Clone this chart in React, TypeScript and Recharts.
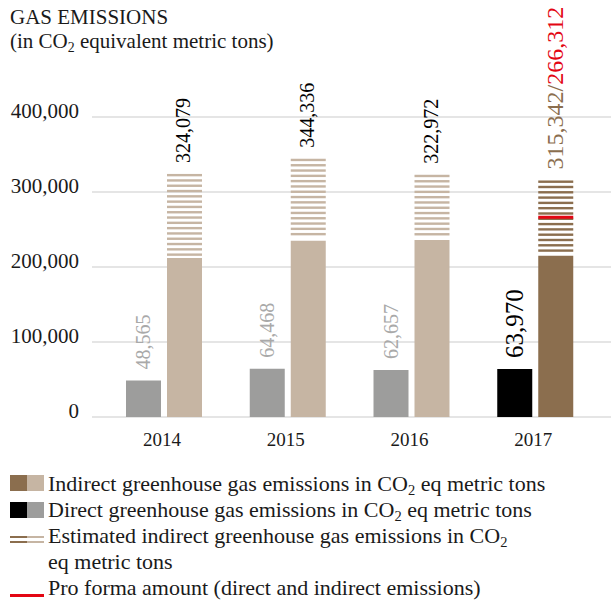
import React from 'react';
import { BarChart, Bar, XAxis, YAxis, CartesianGrid, Cell, LabelList } from 'recharts';

const years = ['2014', '2015', '2016', '2017'];
const directValues = [48565, 64468, 62657, 63970];
const indirectMeasured = [212000, 235000, 236000, 215000];
const indirectTotal = [324079, 344336, 322972, 315342];
const proFormaTotal: (number | null)[] = [null, null, null, 266312];
const yTicks = [0, 100000, 200000, 300000, 400000];
const directColors = ['#9d9d9c', '#9d9d9c', '#9d9d9c', '#000000'];
const indirectColors = ['#c6b5a3', '#c6b5a3', '#c6b5a3', '#8b6e4e'];

const data = years.map((year, i) => ({
  year,
  direct: directValues[i],
  measured: indirectMeasured[i],
  estimated: indirectTotal[i] - indirectMeasured[i],
}));

const FONT = '"Liberation Serif", "Times New Roman", serif';
const RED = '#e30613';
const BROWN = '#8b6e4e';

const fmt = (v: number) => v.toLocaleString('en-US');

const YTick = (props: any) => {
  const { x, y, payload } = props;
  return (
    <text x={x} y={y + 1} textAnchor="end" fontFamily={FONT} fontSize={21} fill="#1a1a1a">
      {fmt(payload.value)}
    </text>
  );
};

const XTick = (props: any) => {
  const { x, y, payload } = props;
  return (
    <text x={x - 2} y={y + 21} textAnchor="middle" fontFamily={FONT} fontSize={19} fill="#1a1a1a">
      {payload.value}
    </text>
  );
};

const StripedShape = (props: any) => {
  const { x, y, width, height, index } = props;
  const color = indirectColors[index];
  const stripes: React.ReactNode[] = [];
  const step = 5.3;
  let k = 0;
  for (let yy = y; yy < y + height - 3; yy += step) {
    stripes.push(<rect key={k++} x={x} y={yy} width={width} height={2.4} fill={color} />);
  }
  const pf = proFormaTotal[index];
  let redLine = null;
  if (pf != null) {
    const total = indirectTotal[index];
    const measured = indirectMeasured[index];
    const ry = y + (height * (total - pf)) / (total - measured);
    redLine = <rect x={x} y={ry - 1.5} width={width} height={3} fill={RED} />;
  }
  return (
    <g>
      {stripes}
      {redLine}
    </g>
  );
};

const DirectLabel = (props: any) => {
  const { x, y, width, index } = props;
  const last = index === 3;
  const cx = Number(x) + Number(width) / 2;
  const yy = Number(y) - 11;
  return (
    <text
      transform={`rotate(-90 ${cx} ${yy})`}
      x={cx}
      y={yy}
      textAnchor="start"
      dominantBaseline="central"
      fontFamily={FONT}
      fontSize={last ? 25 : 20}
      fill={last ? '#000' : '#a9a9a9'}
    >
      {fmt(directValues[index])}
    </text>
  );
};

const IndirectLabel = (props: any) => {
  const { x, y, width, index } = props;
  const cx = Number(x) + Number(width) / 2 - 1;
  const yy = Number(y) - 11;
  const pf = proFormaTotal[index];
  return (
    <text
      transform={`rotate(-90 ${cx} ${yy})`}
      x={cx}
      y={yy}
      textAnchor="start"
      dominantBaseline="central"
      fontFamily={FONT}
      fontSize={pf != null ? 24 : 20}
      fill="#000"
    >
      {pf != null ? (
        <>
          <tspan fill={BROWN}>{fmt(indirectTotal[index])}/</tspan>
          <tspan fill={RED}>{fmt(pf)}</tspan>
        </>
      ) : (
        fmt(indirectTotal[index])
      )}
    </text>
  );
};

const Sub = ({ children }: { children: React.ReactNode }) => (
  <span style={{ fontSize: '0.66em', verticalAlign: '-0.3em', lineHeight: 0 }}>{children}</span>
);

export default function App() {
  return (
    <div
      style={{
        position: 'absolute',
        left: 0,
        top: 0,
        width: 611,
        height: 602,
        background: '#fff',
        fontFamily: FONT,
        color: '#1a1a1a',
        overflow: 'hidden',
      }}
    >
      <div style={{ position: 'absolute', left: 10, top: 5, fontSize: 21, lineHeight: '24px' }}>
        GAS EMISSIONS
        <br />
        (in CO<Sub>2</Sub> equivalent metric tons)
      </div>
      <div style={{ position: 'absolute', left: 0, top: 0 }}>
        <BarChart
          width={611}
          height={460}
          data={data}
          margin={{ top: 117, right: 0, bottom: 3, left: 0 }}
          barSize={35}
          barGap={6}
        >
          <CartesianGrid horizontal vertical={false} stroke="#dcdcdc" strokeWidth={1.5} />
          <XAxis
            dataKey="year"
            axisLine={false}
            tickLine={false}
            height={40}
            padding={{ left: 10, right: 14 }}
            tick={<XTick />}
            interval={0}
          />
          <YAxis
            domain={[0, 400000]}
            ticks={yTicks}
            axisLine={false}
            tickLine={false}
            width={92}
            tickMargin={7}
            tick={<YTick />}
            allowDataOverflow
          />
          <Bar dataKey="direct" stackId="dir" isAnimationActive={false}>
            {data.map((_, i) => (
              <Cell key={i} fill={directColors[i]} />
            ))}
            <LabelList dataKey="direct" content={<DirectLabel />} />
          </Bar>
          <Bar dataKey="measured" stackId="ind" isAnimationActive={false}>
            {data.map((_, i) => (
              <Cell key={i} fill={indirectColors[i]} />
            ))}
          </Bar>
          <Bar dataKey="estimated" stackId="ind" isAnimationActive={false} shape={<StripedShape />}>
            <LabelList dataKey="estimated" content={<IndirectLabel />} />
          </Bar>
        </BarChart>
      </div>
      <div style={{ position: 'absolute', left: 10, top: 475, width: 17, height: 16, background: BROWN }} />
      <div style={{ position: 'absolute', left: 27, top: 475, width: 17, height: 16, background: '#c6b5a3' }} />
      <div style={{ position: 'absolute', left: 10, top: 502, width: 17, height: 16, background: '#000' }} />
      <div style={{ position: 'absolute', left: 27, top: 502, width: 17, height: 16, background: '#9d9d9c' }} />
      <div style={{ position: 'absolute', left: 10, top: 536, width: 17, height: 2, background: BROWN }} />
      <div style={{ position: 'absolute', left: 27, top: 536, width: 17, height: 2, background: '#c6b5a3' }} />
      <div style={{ position: 'absolute', left: 10, top: 541, width: 17, height: 2, background: BROWN }} />
      <div style={{ position: 'absolute', left: 27, top: 541, width: 17, height: 2, background: '#c6b5a3' }} />
      <div style={{ position: 'absolute', left: 10, top: 594, width: 34, height: 3, background: RED }} />
      <div style={{ position: 'absolute', left: 48, top: 470.6, fontSize: 22, lineHeight: '26px', whiteSpace: 'nowrap' }}>
        Indirect greenhouse gas emissions in CO<Sub>2</Sub> eq metric tons
        <br />
        Direct greenhouse gas emissions in CO<Sub>2</Sub> eq metric tons
        <br />
        Estimated indirect greenhouse gas emissions in CO<Sub>2</Sub>
        <br />
        eq metric tons
        <br />
        Pro forma amount (direct and indirect emissions)
      </div>
    </div>
  );
}
